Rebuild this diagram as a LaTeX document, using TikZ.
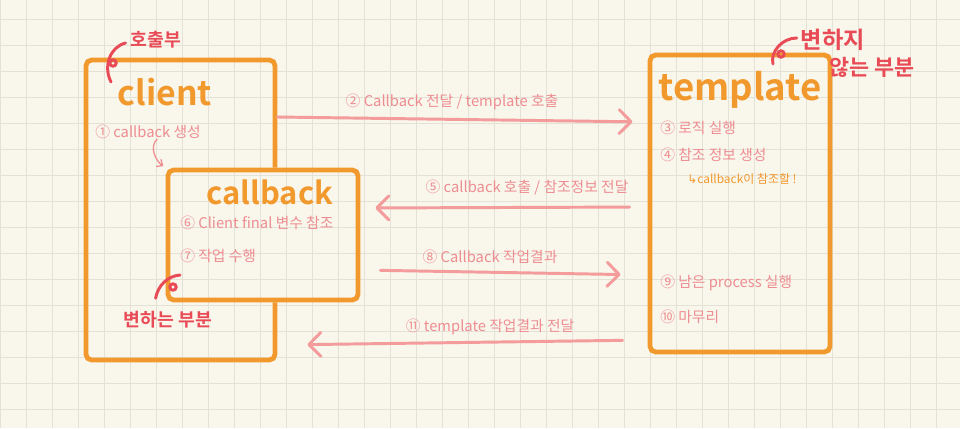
\documentclass[tikz,border=0pt]{standalone}
\usepackage{fontspec}
\setmainfont{Noto Sans CJK KR}[BoldFont={Noto Sans CJK KR Bold}]
\newfontfamily\arrowfont{DejaVu Sans}
\usetikzlibrary{arrows.meta, fit, calc}

\definecolor{paper}{HTML}{F9F6EC}
\definecolor{gridgray}{HTML}{E4E1D7}
\definecolor{penorange}{HTML}{F2992E}
\definecolor{penred}{HTML}{E94B56}
\definecolor{penpink}{HTML}{EE8D91}
\definecolor{arrowpink}{HTML}{F49B9C}

\begin{document}
\begin{tikzpicture}[
  x=0.025cm, y=-0.025cm,
  box/.style={draw=penorange, line width=3.4pt, rounded corners=4pt, inner sep=0pt},
  title/.style={text=penorange, font=\bfseries\fontsize{24}{28}\selectfont, inner sep=0pt},
  note/.style={text=penpink, font=\fontsize{10.5}{12}\selectfont, anchor=west, inner sep=0pt},
  steplabel/.style={text=penpink, font=\fontsize{10.5}{12}\selectfont, inner sep=0pt},
  redlabel/.style={text=penred, font=\bfseries\fontsize{13}{15}\selectfont, inner sep=0pt},
  redhook/.style={draw=penred, line width=2.1pt, line cap=round},
  flow/.style={draw=arrowpink, line width=2.1pt, line cap=round, -{Straight Barb[length=3mm, width=6mm, round]}},
  gridline/.style={draw=gridgray, line width=0.7pt}
]
\useasboundingbox (0,0) rectangle (960,428);

% Paper with grid
\fill[paper] (0,0) rectangle (960,428);
\foreach \gx in {0,...,36}
  \draw[gridline] (\gx*26+0.5,0) -- (\gx*26+0.5,428);
\foreach \gy in {0,...,15}
  \draw[gridline] (0,\gy*26+19) -- (960,\gy*26+19);

% Boxes: callback sits over the client box
\node[box, fit={(168,170) (358,300)}] (callback) {};
\begin{scope}
  \clip (0,0) rectangle (960,428) (callback.north east) rectangle (callback.south west);
  \node[box, fit={(86,60) (275,360)}] (client) {};
\end{scope}
\node[box, fit={(650,55) (830,352)}] (template) {};

% Titles
\node[title] (clienttitle) at (165,92) {client};
\node[title, font=\bfseries\fontsize{22}{26}\selectfont] (callbacktitle) at (270,192) {callback};
\node[title, font=\bfseries\fontsize{26}{30}\selectfont] (templatetitle) at (740,90) {template};

% Steps inside the boxes
\node[note] (s1) at (95,132) {① callback 생성};
\node[note] (s6) at (180,223) {⑥ Client final 변수 참조};
\node[note] (s7) at (180,256) {⑦ 작업 수행};
\node[note] (s3) at (660,128) {③ 로직 실행};
\node[note] (s4) at (660,155) {④ 참조 정보 생성};
\node[note, text=penorange, font=\fontsize{8.5}{10}\selectfont] (s4ref) at (687,179) {{\arrowfont ↳}callback이 참조할 !};
\node[note] (s9) at (660,283) {⑨ 남은 process 실행};
\node[note] (s10) at (660,317) {⑩ 마무리};
\draw[draw=penpink, line width=0.9pt, line cap=round, -{Straight Barb[length=1.2mm, width=2.2mm]}, shorten >=2pt]
  ([xshift=0.23cm]s1.south) .. controls +(-9,8) and +(-9,-6) .. (callback.north west);

% Messages between the boxes
\node[steplabel] (l2) at (452,102) {② Callback 전달 / template 호출};
\draw[flow, shorten >=0.375cm] (client.east |- 0,117) -- (template.west |- 0,122);

\node[steplabel] (l5) at (527,188) {⑤ callback 호출 / 참조정보 전달};
\draw[flow, shorten <=0.45cm, shorten >=0.375cm] (template.west |- 0,207) -- (callback.east |- 0,208);

\node[steplabel] (l8) at (490,257) {⑧ Callback 작업결과};
\draw[flow, shorten <=0.5cm, shorten >=0.675cm] (callback.east |- 0,270) -- (template.west |- 0,275);

\node[steplabel] (l11) at (490,327) {⑪ template 작업결과 전달};
\draw[flow, shorten <=0.625cm, shorten >=0.75cm] (template.west |- 0,340) -- (client.east |- 0,345);

% Red remarks
\node[redlabel] (callerlabel) at (156,40) {호출부};
\draw[redhook] ([shift={(-5,3)}]callerlabel.west) .. controls (110,47) and (103,66) .. (111,82);
\draw[redhook] (113,63) circle[radius=0.08cm];

\node[redlabel, font=\bfseries\fontsize{16.5}{18}\selectfont] (fixedtop) at (833,40) {변하지};
\node[redlabel, font=\bfseries\fontsize{15.5}{17}\selectfont] (fixedbottom) at (872,67) {않는 부분};
\draw[redhook] ([shift={(-4,-2)}]fixedtop.west) .. controls (782,38) and (770,52) .. (773,64);
\draw[redhook] (781,54) circle[radius=0.08cm];

\node[redlabel] (changinglabel) at (168,320) {변하는 부분};
\draw[redhook] ([shift={(32,-13)}]changinglabel.north west) .. controls (158,285) and (168,276) .. (180,275);
\draw[redhook] (173,287) circle[radius=0.08cm];

\end{tikzpicture}
\end{document}
